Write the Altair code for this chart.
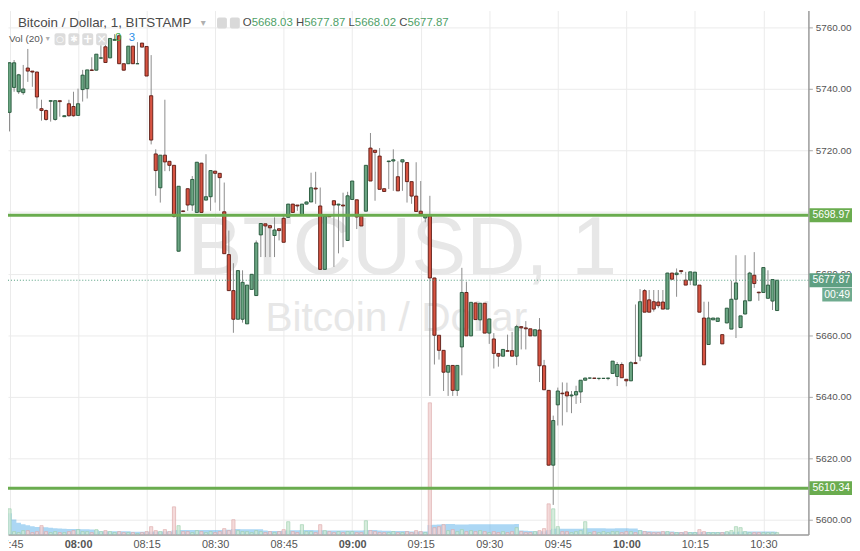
import altair as alt
import pandas as pd

# ---------------- data ----------------
minutes = list(range(-1, 169))  # minutes after 07:45

opens = [5733.9, 5732.4, 5740.5, 5739.1, 5738.8, 5746.8, 5745.8, 5745.5, 5733.6, 5733.0,
         5736.0, 5730.1, 5736.2, 5731.0, 5735.2, 5734.3, 5731.4, 5739.8, 5740.1, 5746.2,
         5746.1, 5750.0, 5753.7, 5750.1, 5755.8, 5757.3, 5748.2, 5748.2, 5753.9, 5748.2,
         5754.9, 5753.8, 5737.8, 5718.9, 5707.9, 5718.5, 5716.5, 5715.2, 5687.3, 5700.4,
         5707.6, 5702.3, 5699.9, 5715.9, 5703.9, 5705.0, 5713.3, 5712.6, 5700.1, 5686.2,
         5674.5, 5665.2, 5665.2, 5663.7, 5674.9, 5672.9, 5692.6, 5696.2, 5695.6, 5692.4,
         5694.6, 5698.0, 5698.3, 5702.6, 5702.3, 5699.2, 5702.6, 5703.3, 5707.8, 5702.0,
         5681.4, 5698.8, 5703.7, 5702.3, 5702.3, 5690.8, 5704.1, 5704.0, 5698.7, 5700.3,
         5720.8, 5720.1, 5718.2, 5707.6, 5716.4, 5716.6, 5711.5, 5716.3, 5716.1, 5709.9,
         5705.2, 5700.3, 5698.1, 5698.8, 5678.6, 5660.0, 5655.1, 5648.0, 5650.2, 5642.1,
         5656.2, 5673.9, 5659.8, 5670.5, 5665.0, 5670.4, 5660.7, 5658.8, 5654.1, 5653.2,
         5655.0, 5655.0, 5653.2, 5662.8, 5662.4, 5662.1, 5659.8, 5661.7, 5650.1, 5642.1,
         5617.8, 5637.4, 5641.2, 5641.6, 5640.3, 5640.6, 5641.6, 5645.4, 5646.1, 5646.1,
         5646.0, 5646.0, 5646.0, 5647.6, 5646.6, 5650.5, 5645.7, 5645.2, 5651.1, 5653.2,
         5674.5, 5671.5, 5670.9, 5670.8, 5670.8, 5668.5, 5680.2, 5679.7, 5681.0, 5677.9,
         5677.9, 5676.3, 5676.3, 5665.6, 5657.0, 5665.0, 5664.5, 5660.2, 5664.0, 5662.0,
         5671.7, 5662.5, 5666.9, 5671.2, 5679.5, 5674.0, 5673.9, 5672.0, 5671.1, 5668.03]

highs = [5734.6, 5748.7, 5749.4, 5744.9, 5747.8, 5753.0, 5745.8, 5745.6, 5736.5, 5733.3,
         5736.3, 5736.2, 5736.2, 5731.4, 5736.5, 5739.1, 5740.1, 5746.2, 5746.2, 5750.3,
         5751.3, 5754.2, 5755.2, 5756.4, 5757.8, 5758.1, 5748.2, 5753.9, 5753.9, 5755.2,
         5754.9, 5753.8, 5751.0, 5720.4, 5718.5, 5736.5, 5716.5, 5715.2, 5708.4, 5700.5,
         5707.7, 5711.7, 5716.3, 5716.0, 5718.8, 5713.6, 5713.4, 5712.7, 5709.6, 5694.0,
         5683.4, 5681.1, 5681.1, 5676.3, 5679.9, 5690.8, 5696.4, 5696.2, 5695.7, 5698.3,
         5694.6, 5698.8, 5702.7, 5702.7, 5702.3, 5702.6, 5703.4, 5712.8, 5713.1, 5708.0,
         5698.8, 5698.9, 5703.7, 5702.7, 5706.3, 5706.6, 5710.1, 5704.0, 5698.8, 5715.3,
         5725.7, 5720.1, 5720.8, 5707.7, 5716.6, 5720.4, 5716.5, 5717.0, 5716.2, 5709.9,
         5716.2, 5710.1, 5699.2, 5705.3, 5678.7, 5660.0, 5655.2, 5650.2, 5650.3, 5650.3,
         5681.9, 5677.4, 5670.8, 5670.6, 5670.4, 5670.5, 5665.4, 5660.7, 5654.1, 5655.4,
         5660.2, 5661.1, 5663.4, 5662.8, 5664.6, 5662.1, 5661.8, 5665.6, 5652.0, 5642.1,
         5633.9, 5643.0, 5644.7, 5644.6, 5641.9, 5643.6, 5645.4, 5646.2, 5646.2, 5646.1,
         5646.1, 5646.1, 5646.1, 5651.6, 5651.3, 5651.2, 5645.7, 5651.6, 5670.0, 5675.0,
         5675.0, 5674.7, 5674.7, 5674.7, 5674.7, 5680.3, 5680.3, 5681.7, 5681.1, 5680.6,
         5680.6, 5680.5, 5676.3, 5670.9, 5670.9, 5665.6, 5665.6, 5660.2, 5668.8, 5677.7,
         5686.0, 5666.3, 5686.0, 5680.6, 5687.0, 5674.1, 5682.0, 5681.1, 5678.2, 5677.87]

lows = [5723.6, 5726.2, 5739.1, 5738.4, 5738.1, 5742.3, 5740.7, 5733.6, 5729.7, 5729.7,
        5729.4, 5729.7, 5731.0, 5731.0, 5731.0, 5731.0, 5731.3, 5735.9, 5736.9, 5746.0,
        5746.0, 5749.7, 5748.6, 5750.0, 5755.8, 5748.1, 5746.0, 5748.1, 5748.1, 5748.1,
        5753.5, 5744.2, 5722.0, 5705.3, 5703.1, 5713.3, 5713.3, 5698.2, 5687.2, 5700.0,
        5700.4, 5700.4, 5699.8, 5699.8, 5703.8, 5700.4, 5703.1, 5700.4, 5686.5, 5674.4,
        5660.8, 5665.2, 5664.1, 5663.7, 5674.9, 5672.8, 5685.4, 5685.4, 5685.4, 5685.4,
        5690.8, 5690.2, 5698.2, 5699.8, 5700.4, 5699.1, 5702.5, 5703.3, 5702.7, 5681.4,
        5681.4, 5698.4, 5682.2, 5686.6, 5688.6, 5690.7, 5704.0, 5694.5, 5695.5, 5700.3,
        5710.1, 5703.7, 5707.4, 5706.6, 5707.5, 5706.9, 5706.9, 5706.9, 5703.1, 5702.7,
        5700.2, 5699.4, 5696.7, 5640.3, 5650.5, 5652.1, 5641.9, 5640.3, 5640.3, 5640.3,
        5647.0, 5659.8, 5659.7, 5665.1, 5661.5, 5660.7, 5657.2, 5649.2, 5649.8, 5653.2,
        5654.8, 5653.2, 5650.3, 5655.4, 5655.4, 5659.8, 5659.8, 5644.8, 5642.2, 5617.7,
        5604.9, 5630.7, 5630.7, 5635.0, 5634.7, 5637.7, 5638.0, 5645.3, 5645.8, 5645.9,
        5645.4, 5645.9, 5645.4, 5647.6, 5643.5, 5646.2, 5643.4, 5645.1, 5650.7, 5651.6,
        5667.5, 5667.5, 5667.7, 5668.8, 5668.5, 5668.5, 5678.2, 5672.5, 5679.9, 5676.3,
        5676.3, 5676.3, 5667.5, 5650.4, 5657.0, 5665.0, 5664.5, 5657.2, 5663.9, 5662.0,
        5659.1, 5662.4, 5666.8, 5671.2, 5675.4, 5671.2, 5673.9, 5672.0, 5668.2, 5668.02]

closes = [5724.3, 5748.5, 5748.5, 5744.6, 5740.0, 5745.8, 5745.5, 5737.4, 5733.0, 5730.1,
          5736.2, 5736.2, 5735.9, 5731.3, 5731.3, 5731.3, 5735.2, 5744.5, 5746.2, 5746.0,
          5751.3, 5750.1, 5748.6, 5756.4, 5756.1, 5748.2, 5746.1, 5753.9, 5748.2, 5748.2,
          5753.6, 5744.2, 5723.4, 5713.5, 5718.5, 5716.3, 5715.2, 5698.6, 5708.4, 5700.2,
          5702.3, 5710.6, 5716.2, 5699.9, 5705.0, 5713.5, 5712.6, 5711.2, 5686.5, 5674.5,
          5665.2, 5681.0, 5677.2, 5676.3, 5679.8, 5690.0, 5696.3, 5695.5, 5694.9, 5694.2,
          5694.0, 5690.2, 5702.6, 5699.9, 5702.0, 5702.6, 5703.3, 5707.9, 5707.5, 5681.4,
          5698.7, 5698.5, 5702.3, 5702.6, 5702.0, 5705.3, 5710.1, 5698.4, 5695.5, 5715.2,
          5710.1, 5719.4, 5707.4, 5706.7, 5716.6, 5717.0, 5706.9, 5717.0, 5709.9, 5705.2,
          5700.2, 5699.4, 5699.2, 5678.6, 5660.0, 5655.1, 5648.0, 5650.2, 5642.1, 5650.2,
          5673.9, 5659.8, 5670.7, 5665.1, 5670.4, 5660.7, 5665.3, 5654.1, 5653.2, 5655.4,
          5654.8, 5653.2, 5662.8, 5662.4, 5662.1, 5659.8, 5661.8, 5650.1, 5642.3, 5617.8,
          5632.3, 5641.9, 5641.0, 5640.3, 5640.6, 5641.7, 5645.4, 5646.1, 5646.1, 5646.0,
          5646.0, 5646.0, 5646.1, 5651.6, 5650.5, 5646.2, 5645.2, 5651.1, 5650.8, 5670.9,
          5667.5, 5667.5, 5668.5, 5669.6, 5668.5, 5680.2, 5678.2, 5680.2, 5680.7, 5676.3,
          5680.6, 5680.5, 5667.5, 5650.4, 5665.6, 5665.6, 5665.6, 5657.2, 5668.8, 5671.7,
          5677.0, 5666.3, 5671.2, 5680.2, 5676.8, 5673.8, 5682.0, 5676.3, 5678.1, 5677.87]

volumes = [17, 26, 3, 2, 4, 4, 2, 3, 9, 3,
           2, 3, 2, 2, 3, 4, 5, 3, 3, 2,
           5, 3, 4, 3, 2, 3, 2, 2, 2, 1,
           2, 3, 8, 4, 3, 5, 3, 28, 9, 3,
           3, 2, 4, 3, 2, 3, 2, 3, 6, 4,
           15, 4, 3, 3, 2, 4, 3, 2, 3, 2,
           3, 5, 13, 3, 2, 10, 3, 3, 2, 10,
           4, 3, 2, 3, 2, 3, 3, 2, 2, 14,
           4, 3, 2, 2, 2, 3, 2, 2, 3, 2,
           4, 3, 2, 133, 7, 8, 10, 4, 5, 3,
           5, 3, 4, 3, 4, 3, 2, 3, 2, 3,
           2, 3, 7, 3, 2, 2, 3, 4, 6, 31,
           26, 8, 3, 3, 2, 3, 4, 13, 2, 3,
           2, 3, 2, 3, 3, 2, 3, 3, 2, 4,
           3, 2, 2, 2, 3, 3, 2, 2, 2, 3,
           2, 2, 5, 3, 2, 2, 2, 2, 3, 4,
           8, 7, 3, 2, 2, 2, 2, 2, 2, 2]

levels = [5698.97, 5610.34]
last_price = 5677.87
countdown = "00:49"
y_ticks = list(range(5600, 5761, 10))
x_ticks = list(range(0, 166, 15))
ohlc_header = [("O", "5668.03"), ("H", "5677.87"), ("L", "5668.02"), ("C", "5677.87")]

# ---------------- layout ----------------
W, H = 808, 529
X_DOM = [0.75, 173.77]
Y_DOM = [5595.26, 5765.47]
VOL_DOM = [0, 529]
FONT = "Liberation Sans"

df = pd.DataFrame(dict(t=minutes, open=opens, high=highs, low=lows,
                       close=closes, vol=volumes))

xs = alt.Scale(domain=X_DOM, nice=False, zero=False)
ys = alt.Scale(domain=Y_DOM, nice=False, zero=False)
vys = alt.Scale(domain=VOL_DOM, nice=False, zero=True)

x_axis = alt.Axis(
    values=x_ticks,
    labelExpr="timeFormat(datetime(2017, 10, 5, 7, 45 + datum.value), '%H:%M')",
    labelFontWeight={"condition": {"test": "datum.value % 60 == 15", "value": "bold"},
                     "value": "normal"},
    grid=True, gridColor="#ebebeb", gridWidth=1,
    ticks=False, domainColor="#9a9a9a", domainWidth=1.5,
    labelColor="#555555", labelFontSize=11, labelFont=FONT, labelPadding=4,
    labelFlush=False, labelOverlap=False, title=None)

y_axis = alt.Axis(
    orient="right", values=y_ticks, format=".2f",
    grid=True, gridColor="#ebebeb", gridWidth=1,
    tickSize=4, tickColor="#a8a8a8", domainColor="#9a9a9a", domainWidth=1.5,
    labelColor="#555555", labelFontSize=10, labelFont=FONT, labelPadding=3,
    title=None)

up_expr = "datum.close >= datum.open"

candles = alt.Chart(df).transform_calculate(
    body_fill=f"{up_expr} ? '#6ba583' : '#d75442'",
    body_stroke=f"{up_expr} ? '#225437' : '#5b1a13'",
)

wick = candles.mark_rule(color="#8c8c8c", strokeWidth=1, clip=True).encode(
    x=alt.X("t:Q", scale=xs, axis=x_axis, title=None),
    y=alt.Y("low:Q", scale=ys, axis=y_axis, title=None),
    y2="high:Q",
)
body = candles.mark_bar(size=3.2, strokeWidth=0.9, clip=True).encode(
    x=alt.X("t:Q", scale=xs, title=None),
    y=alt.Y("open:Q", scale=ys, title=None),
    y2="close:Q",
    fill=alt.Fill("body_fill:N", scale=None),
    stroke=alt.Stroke("body_stroke:N", scale=None),
)

lv = pd.DataFrame({"price": levels})
level_rules = alt.Chart(lv).mark_rule(color="#6aac4f", strokeWidth=3).encode(
    y=alt.Y("price:Q", scale=ys, title=None))

cur = pd.DataFrame({"price": [last_price]})
cur_rule = alt.Chart(cur).mark_rule(color="#4f9c7c", strokeWidth=1,
                                    strokeDash=[1, 2]).encode(
    y=alt.Y("price:Q", scale=ys, title=None))

tags = pd.DataFrame({
    "price": [levels[0], levels[1], last_price],
    "label": [f"{levels[0]:.2f}", f"{levels[1]:.2f}", f"{last_price:.2f}"],
    "fill": ["#6aac4f", "#6aac4f", "#5e9f82"],
})
tag_rect = alt.Chart(tags).transform_calculate(
    top="datum.price + 2.25", bot="datum.price - 2.25"
).mark_rect(clip=False).encode(
    x=alt.value(W + 1), x2=alt.value(W + 44),
    y=alt.Y("top:Q", scale=ys, title=None), y2="bot:Q",
    fill=alt.Fill("fill:N", scale=None),
)
tag_text = alt.Chart(tags).mark_text(
    color="white", fontSize=10.5, font=FONT, align="center", baseline="middle",
    clip=False,
).encode(x=alt.value(W + 23), y=alt.Y("price:Q", scale=ys, title=None),
         text="label:N")

cd = pd.DataFrame({"price": [last_price], "label": [countdown]})
cd_rect = alt.Chart(cd).transform_calculate(
    top="datum.price - 2.45", bot="datum.price - 6.9"
).mark_rect(clip=False, color="#6fab8f").encode(
    x=alt.value(W + 14), x2=alt.value(W + 44),
    y=alt.Y("top:Q", scale=ys, title=None), y2="bot:Q",
)
cd_text = alt.Chart(cd).transform_calculate(
    ypos="datum.price - 4.7"
).mark_text(color="white", fontSize=10.5, font=FONT, align="center",
            baseline="middle", clip=False).encode(
    x=alt.value(W + 29), y=alt.Y("ypos:Q", scale=ys, title=None), text="label:N")

price_layer = alt.layer(wick, body, level_rules, cur_rule,
                        tag_rect, tag_text, cd_rect, cd_text)

# ---------------- volume pane ----------------
vol_base = alt.Chart(df).transform_calculate(
    vfill=f"{up_expr} ? '#cfe9d7' : '#f2d4d4'",
    vstroke=f"{up_expr} ? '#9fd0ae' : '#deaaaa'",
)
vol_ma = vol_base.transform_window(
    ma="mean(vol)", frame=[-19, 0], sort=[alt.SortField("t")]
).mark_area(interpolate="step", color="#5ab0ea", opacity=0.5, clip=True).encode(
    x=alt.X("t:Q", scale=xs, title=None),
    y=alt.Y("ma:Q", scale=vys, axis=None),
)
vol_bars = vol_base.mark_bar(size=3.2, strokeWidth=0.8, opacity=0.85, clip=True).encode(
    x=alt.X("t:Q", scale=xs, title=None),
    y=alt.Y("vol:Q", scale=vys, axis=None),
    fill=alt.Fill("vfill:N", scale=None),
    stroke=alt.Stroke("vstroke:N", scale=None),
)
vol_layer = alt.layer(vol_ma, vol_bars)


# ---------------- decorative texts ----------------
def label(text, x, y, size, color, weight="normal", align="center",
          baseline="middle", font=FONT):
    return alt.Chart(pd.DataFrame({"s": [text]})).mark_text(
        align=align, baseline=baseline, fontSize=size, color=color,
        fontWeight=weight, font=font, clip=False,
    ).encode(x=alt.value(x), y=alt.value(y), text="s:N")


def box(x, y, w, h, color):
    return alt.Chart(pd.DataFrame({"s": [0]})).mark_rect(
        color=color, cornerRadius=2, clip=False
    ).encode(x=alt.value(x), x2=alt.value(x + w), y=alt.value(y), y2=alt.value(y + h))


watermark = [
    label("BTCUSD, 1", 398, 266, 83, "#e7e7e7", baseline="alphabetic"),
    label("Bitcoin / Dollar", 392, 323, 41, "#e7e7e7", baseline="alphabetic"),
]

hdr_green = "#4e9f67"
header = [
    label("Bitcoin / Dollar, 1, BITSTAMP", 10, 12.5, 13.5, "#4a4a4a", align="left"),
    label("\u25BE", 197, 12.5, 10, "#b0b0b0", font="DejaVu Sans"),
    box(211, 7, 10, 11, "#d9d9d9"),
    box(224, 7, 10, 11, "#d9d9d9"),
]
# OHLC read-out, laid out as one line with spaces between the pairs
hx = 237.0
char_w = 11.5 * 0.556
for letter, val in ohlc_header:
    header.append(label(letter, hx, 12.5, 11.5, "#4a4a4a", align="left"))
    lw = {"O": 0.778, "H": 0.722, "L": 0.556, "C": 0.722}[letter] * 11.5
    header.append(label(val, hx + lw, 12.5, 11.5, hdr_green, align="left"))
    hx += lw + 6 * char_w + 0.278 * 11.5 + 0.278 * 11.5

header += [
    label("Vol (20)", 1, 29, 10, "#555555", align="left"),
    label("\u25BE", 40, 29, 8, "#b0b0b0", font="DejaVu Sans"),
    box(47, 23, 11, 12, "#dcdcdc"),
    box(61, 23, 11, 12, "#dcdcdc"),
    box(75, 23, 11, 12, "#dcdcdc"),
    box(89, 23, 11, 12, "#dcdcdc"),
    label("\u25CB", 52.5, 29, 9, "white", font="DejaVu Sans"),
    label("\u2731", 66.5, 29, 9, "white", font="DejaVu Sans"),
    label("+", 80.5, 29, 12, "white", weight="bold", font="DejaVu Sans"),
    label("\u00D7", 94.5, 29, 12, "white", font="DejaVu Sans"),
    label("0", 108, 28, 11.5, "#4caf50", align="left"),
    label("3", 122, 28, 11.5, "#2e8fe8", align="left"),
]

chart = alt.layer(
    *watermark, vol_layer, price_layer, *header
).resolve_scale(y="independent").properties(
    width=W, height=H,
    autosize=alt.AutoSizeParams(type="none"),
    padding={"left": 0, "top": 0, "right": 44, "bottom": 14},
    background="white",
).configure_view(stroke=None)

chart.save("out.html", embed_options={"renderer": "svg", "actions": False})
